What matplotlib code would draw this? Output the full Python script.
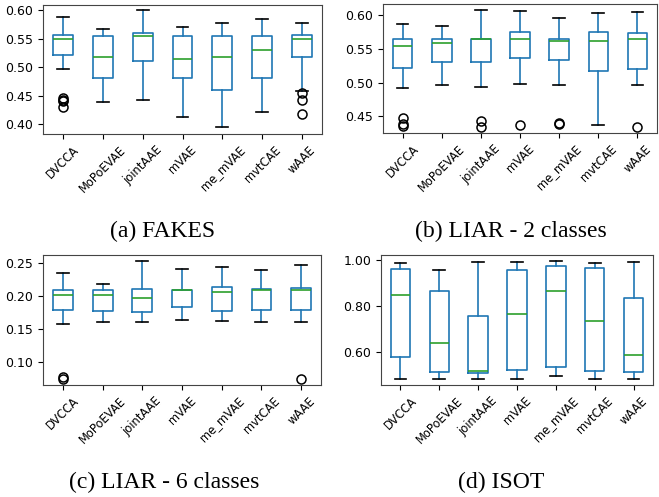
import numpy as np
import matplotlib
matplotlib.use("Agg")
import matplotlib.pyplot as plt

models = ["DVCCA", "MoPoEVAE", "jointAAE", "mVAE", "me_mVAE", "mvtCAE", "wAAE"]

# per-model box statistics: lower whisker, q1, median, q3, upper whisker, outliers
fakes_lo = [0.496, 0.439, 0.442, 0.413, 0.394, 0.422, 0.458]
fakes_q1 = [0.521, 0.481, 0.511, 0.480, 0.460, 0.481, 0.518]
fakes_med = [0.549, 0.518, 0.554, 0.515, 0.518, 0.530, 0.549]
fakes_q3 = [0.557, 0.554, 0.559, 0.554, 0.554, 0.554, 0.557]
fakes_hi = [0.588, 0.566, 0.600, 0.571, 0.578, 0.584, 0.578]
fakes_out = [[0.446, 0.443, 0.440, 0.430], [], [], [], [], [], [0.455, 0.442, 0.417]]

liar2_lo = [0.492, 0.497, 0.494, 0.498, 0.497, 0.437, 0.497]
liar2_q1 = [0.522, 0.531, 0.531, 0.536, 0.534, 0.517, 0.520]
liar2_med = [0.554, 0.559, 0.564, 0.564, 0.561, 0.561, 0.564]
liar2_q3 = [0.564, 0.564, 0.565, 0.575, 0.565, 0.574, 0.573]
liar2_hi = [0.586, 0.583, 0.607, 0.605, 0.596, 0.602, 0.604]
liar2_out = [[0.447, 0.439, 0.436], [], [0.443, 0.435], [0.438], [0.441, 0.439], [], [0.434]]

liar6_lo = [0.158, 0.160, 0.161, 0.163, 0.162, 0.161, 0.161]
liar6_q1 = [0.178, 0.177, 0.176, 0.183, 0.177, 0.178, 0.178]
liar6_med = [0.201, 0.201, 0.197, 0.209, 0.206, 0.209, 0.210]
liar6_q3 = [0.210, 0.210, 0.211, 0.209, 0.214, 0.211, 0.212]
liar6_hi = [0.235, 0.219, 0.254, 0.241, 0.244, 0.240, 0.248]
liar6_out = [[0.077, 0.074], [], [], [], [], [], [0.074]]

isot_lo = [0.486, 0.486, 0.486, 0.486, 0.499, 0.486, 0.486]
isot_q1 = [0.578, 0.515, 0.511, 0.522, 0.538, 0.519, 0.515]
isot_med = [0.850, 0.643, 0.519, 0.766, 0.867, 0.737, 0.590]
isot_q3 = [0.961, 0.867, 0.757, 0.960, 0.977, 0.965, 0.837]
isot_hi = [0.987, 0.958, 0.991, 0.991, 0.996, 0.987, 0.991]
isot_out = [[], [], [], [], [], [], []]

captions = ["(a) FAKES", "(b) LIAR - 2 classes", "(c) LIAR - 6 classes", "(d) ISOT"]


def make_stats(lo, q1, med, q3, hi, out):
    stats = []
    for i in range(len(models)):
        stats.append({"label": models[i], "whislo": lo[i], "q1": q1[i], "med": med[i],
                      "q3": q3[i], "whishi": hi[i], "fliers": out[i]})
    return stats


W, H = 659, 497
fig = plt.figure(figsize=(W / 100, H / 100), dpi=100)

# axes boxes in pixels: left, top, right, bottom
boxes = [(43, 5, 322, 134), (383, 4, 657, 133), (43, 255, 321, 385), (381, 255, 653, 385)]
data = [
    (fakes_lo, fakes_q1, fakes_med, fakes_q3, fakes_hi, fakes_out),
    (liar2_lo, liar2_q1, liar2_med, liar2_q3, liar2_hi, liar2_out),
    (liar6_lo, liar6_q1, liar6_med, liar6_q3, liar6_hi, liar6_out),
    (isot_lo, isot_q1, isot_med, isot_q3, isot_hi, isot_out),
]
yticks = [np.arange(0.40, 0.601, 0.05), np.arange(0.45, 0.601, 0.05),
          np.arange(0.10, 0.251, 0.05), [0.60, 0.80, 1.00]]
ylims = [(0.3825, 0.609), (0.4255, 0.616), (0.0643, 0.2627), (0.4585, 1.023)]
cap_pos = [(163, 231), (511, 231), (164, 482), (501, 482)]

lw = 1.2
for k in range(4):
    l, t, r, b = boxes[k]
    ax = fig.add_axes([l / W, 1 - b / H, (r - l) / W, (b - t) / H])
    ax.bxp(make_stats(*data[k]), widths=0.5, capwidths=0.3,
           boxprops=dict(color="#1f77b4", linewidth=lw),
           whiskerprops=dict(color="#1f77b4", linewidth=lw),
           capprops=dict(color="k", linewidth=lw),
           medianprops=dict(color="#2ca02c", linewidth=lw),
           flierprops=dict(marker="o", markerfacecolor="none", markeredgecolor="k",
                           markersize=6.5, markeredgewidth=1.1))
    ax.set_ylim(*ylims[k])
    ax.set_yticks(yticks[k])
    ax.set_yticklabels(["%.2f" % v for v in yticks[k]], fontsize=9)
    ax.set_xticklabels(models, rotation=45, fontsize=8.3)
    for s in ax.spines.values():
        s.set_color("#444444")
    fig.text(cap_pos[k][0] / W, 1 - cap_pos[k][1] / H, captions[k], ha="center", va="center",
             fontsize=17, family="Liberation Serif")

fig.savefig("out.png", dpi=100)
